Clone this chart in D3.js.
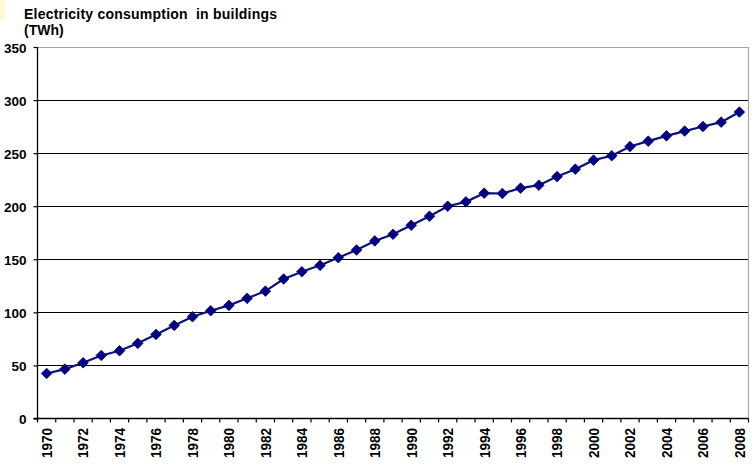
<!DOCTYPE html>
<html><head><meta charset="utf-8">
<script src="https://cdn.jsdelivr.net/npm/d3@7"></script>
<style>
html,body{margin:0;padding:0;background:#fff;}
svg{display:block;}
text{font-family:"Liberation Sans",Arial,sans-serif;font-weight:bold;fill:#000;}
</style></head>
<body>
<svg id="chart" width="755" height="469"></svg>
<script>
const years = [1970,1971,1972,1973,1974,1975,1976,1977,1978,1979,1980,1981,1982,1983,1984,1985,1986,1987,1988,1989,1990,1991,1992,1993,1994,1995,1996,1997,1998,1999,2000,2001,2002,2003,2004,2005,2006,2007,2008];
const consumption = [42.4,46.5,52.5,59.4,63.8,70.8,79.2,87.7,95.8,101.5,106.6,113.2,120.0,131.4,138.3,144.3,151.5,158.8,167.3,173.6,182.1,190.6,200.0,204.1,212.3,212.0,217.0,219.8,227.9,234.9,243.4,247.5,256.2,261.3,266.3,270.8,275.1,279.2,288.7];
const yTicks = [0,50,100,150,200,250,300,350];
const titleLines = ["Electricity consumption  in buildings","(TWh)"];

(function(){
const svg = d3.select("#chart");
const mLeft = 37.5, mRight = 748.5, mTop = 47, mBottom = 418.5;

svg.append("rect").attr("x",0).attr("y",0).attr("width",5).attr("height",19).attr("fill","#fdf8d4");

const x = d3.scaleBand().domain(years).range([mLeft, mRight]).paddingInner(0).paddingOuter(0);
const y = d3.scaleLinear().domain([0,350]).range([mBottom, mTop]);

svg.append("g").selectAll("line").data(yTicks.filter(v => v>0 && v<350)).join("line")
  .attr("x1",mLeft).attr("x2",mRight)
  .attr("y1",d=>Math.round(y(d))+0.5).attr("y2",d=>Math.round(y(d))+0.5)
  .attr("stroke","#000").attr("stroke-width",1);

svg.append("path")
  .attr("d",`M${mLeft},${Math.round(y(350))+0.5}H${mRight}V${mBottom}`)
  .attr("fill","none").attr("stroke","#a8a898").attr("stroke-width",1.2);

const yAxis = d3.axisLeft(y).tickValues(yTicks).tickSize(4).tickPadding(7);
const gy = svg.append("g").attr("transform",`translate(${mLeft},0)`).call(yAxis);
gy.select(".domain").attr("stroke","#000").attr("stroke-width",1.3).attr("d",`M0,${mTop}V${mBottom+3}`);
gy.selectAll(".tick line").attr("stroke","#000").attr("stroke-width",1.2);
gy.selectAll(".tick text").attr("font-size","13.5px").attr("font-family","Liberation Sans, Arial, sans-serif").attr("font-weight","bold").attr("fill","#000").attr("dy","0.4em");

const gx = svg.append("g");
gx.append("line").attr("x1",mLeft-4).attr("x2",mRight).attr("y1",mBottom).attr("y2",mBottom).attr("stroke","#000").attr("stroke-width",1.3);
const boundaries = years.map(d => x(d)).concat([x(years[years.length-1]) + x.bandwidth()]);
gx.selectAll("line.tk").data(boundaries).join("line").attr("class","tk")
  .attr("x1",d=>d).attr("x2",d=>d).attr("y1",mBottom).attr("y2",mBottom+4)
  .attr("stroke","#000").attr("stroke-width",1.2);
gx.selectAll("text").data(years.filter((d,i)=>i%2===0)).join("text")
  .attr("transform",d=>`translate(${x(d)+x.bandwidth()/2+5.4},428) rotate(-90)`)
  .attr("text-anchor","end")
  .attr("font-size","15px")
  .attr("textLength",30).attr("lengthAdjust","spacingAndGlyphs")
  .text(d=>d);

const line = d3.line().x((d,i)=>x(years[i])+x.bandwidth()/2).y(d=>y(d));
svg.append("path").datum(consumption).attr("d",line)
  .attr("fill","none").attr("stroke","#10107a").attr("stroke-width",2.2);

const diamond = {draw(ctx,size){const r=5.3;ctx.moveTo(0,-r);ctx.lineTo(r,0);ctx.lineTo(0,r);ctx.lineTo(-r,0);ctx.closePath();}};
svg.append("g").selectAll("path").data(consumption).join("path")
  .attr("transform",(d,i)=>`translate(${x(years[i])+x.bandwidth()/2},${y(d)})`)
  .attr("d", d3.symbol().type(diamond)())
  .attr("fill","#00008b").attr("stroke","#0a0a50").attr("stroke-width",0.8);

svg.append("g").selectAll("text").data(titleLines).join("text")
  .attr("x",24).attr("y",(d,i)=>18.5+i*16.5)
  .attr("font-size","14px")
  .style("white-space","pre")
  .attr("xml:space","preserve")
  .each(function(d,i){ if(i===0) d3.select(this).attr("textLength",253).attr("lengthAdjust","spacing"); })
  .text(d=>d);
})();
</script>
</body></html>
